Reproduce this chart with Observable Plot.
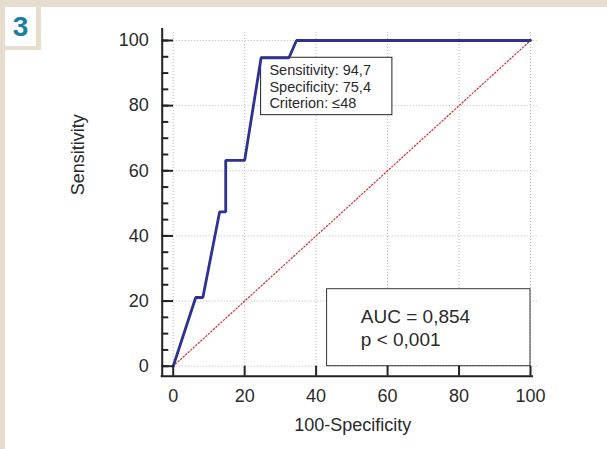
<!DOCTYPE html>
<html>
<head>
<meta charset="utf-8">
<script src="https://cdn.jsdelivr.net/npm/d3@7"></script>
<script src="https://cdn.jsdelivr.net/npm/@observablehq/plot@0.6"></script>
<style>
  body { margin: 0; background: #fff; }
  #wrap { position: relative; width: 607px; height: 449px; overflow: hidden; background: #fff;
          font-family: "Liberation Sans", Arial, sans-serif; }
  .bg { position: absolute; background: #e7ddce; }
  #num { position: absolute; left: 5px; top: 7px; width: 31px; height: 39px; background: #fff;
         color: #17809c; font-weight: bold; font-size: 28px; line-height: 39px; text-align: center; }
  #chart { position: absolute; left: 0; top: 0; }
</style>
</head>
<body>
<div id="wrap">
  <div class="bg" style="left:0;top:0;width:607px;height:7px"></div>
  <div class="bg" style="left:0;top:0;width:5px;height:449px"></div>
  <div class="bg" style="left:0;top:46px;width:41px;height:4px"></div>
  <div class="bg" style="left:36px;top:0;width:5px;height:50px"></div>
  <div id="num">3</div>
  <div id="chart"></div>
</div>
<script>
// ---- data ----
const rocX = [0, 6.3, 8.3, 13.0, 14.7, 14.7, 20.0, 24.6, 32.4, 34.5, 100];
const rocY = [0, 21.1, 21.1, 47.4, 47.4, 63.2, 63.2, 94.7, 94.7, 100, 100];
const diagX = [0, 100];
const diagY = [0, 100];
const xTicks = [0, 20, 40, 60, 80, 100];
const yTicks = [0, 20, 40, 60, 80, 100];
const yMinorTicks = [0, 5, 10, 15, 20, 25, 30, 35, 40, 45, 50, 55, 60, 65, 70, 75, 80, 85, 90, 95, 100];
const critX = [24.6];
const critY = [94.7];
const critLines = ["Sensitivity: 94,7", "Specificity: 75,4", "Criterion: \u226448"];
const aucX = [100];
const aucY = [0];
const aucLines = ["AUC = 0,854", "p < 0,001"];
const xTitle = "100-Specificity";
const yTitle = "Sensitivity";

// ---- tables ----
const roc = rocX.map((x, i) => ({x, y: rocY[i]}));
const diag = diagX.map((x, i) => ({x, y: diagY[i]}));
const crit = [{x: critX[0], y: critY[0], label: critLines.join("\n")}];
const auc = [{x: aucX[0], y: aucY[0], label: aucLines.join("\n")}];

const ink = "#222";
const txt = "#2a2a2a";
const gridStyle = {stroke: "#b8b8b8", strokeWidth: 1, strokeDasharray: "1,2", strokeOpacity: 1};

const chart = Plot.plot({
  width: 607,
  height: 449,
  marginLeft: 172.7,
  marginRight: 77,
  marginTop: 40,
  marginBottom: 83.3,
  style: {background: "transparent", fontFamily: "'Liberation Sans', Arial, sans-serif", overflow: "visible"},
  x: {domain: [0, 100]},
  y: {domain: [0, 100]},
  marks: [
    // grid
    Plot.ruleX(xTicks, {x: d => d, ...gridStyle, insetTop: -8}),
    Plot.ruleY(yTicks, {y: d => d, ...gridStyle, insetRight: -8}),
    // chance diagonal
    Plot.line(diag, {x: "x", y: "y", stroke: "#e3202a", strokeWidth: 1.2, strokeDasharray: "1.2,2.2"}),
    // annotation boxes
    Plot.rect(crit, {x1: "x", x2: "x", y1: "y", y2: "y", insetRight: -131.3, insetBottom: -57.4,
                     fill: "white", stroke: ink, strokeWidth: 1}),
    Plot.rect(auc, {x1: "x", x2: "x", y1: "y", y2: "y", insetLeft: -203.4, insetTop: -77,
                    fill: "white", stroke: "#333", strokeWidth: 1}),
    // ROC curve
    Plot.line(roc, {x: "x", y: "y", stroke: "#2e3192", strokeWidth: 2.8, strokeLinejoin: "miter"}),
    // annotation texts
    Plot.text(crit, {x: "x", y: "y", text: "label", textAnchor: "start", lineAnchor: "bottom",
                     dx: 8.3, dy: 50, fontSize: 14.5, lineHeight: 1.117, fill: txt, ariaLabel: "crit-text"}),
    Plot.text(auc, {x: "x", y: "y", text: "label", textAnchor: "start", lineAnchor: "bottom",
                    dx: -169.7, dy: -20, fontSize: 19, lineHeight: 1.195, fill: txt, ariaLabel: "auc-text"}),
    // axis lines
    Plot.ruleX([0], {x: d => d, dx: -11, insetTop: -12, insetBottom: -11, stroke: ink, strokeWidth: 2}),
    Plot.ruleY([0], {y: d => d, dy: 10, insetLeft: -12, insetRight: -3, stroke: ink, strokeWidth: 2}),
    // ticks
    Plot.axisY({ticks: yMinorTicks, tickSize: -6.6, dx: -11, fill: "none", stroke: ink, strokeWidth: 2, label: null}),
    Plot.axisY({ticks: yTicks, tickSize: -11.3, dx: -11, fill: "none", stroke: ink, strokeWidth: 2, label: null}),
    Plot.axisX({ticks: xTicks, tickSize: -10, dy: 10, fill: "none", stroke: ink, strokeWidth: 2, label: null}),
    // tick labels
    Plot.axisY({ticks: yTicks, tickSize: 0, tickPadding: 24.4, fontSize: 18, fill: txt, label: null}),
    Plot.axisX({ticks: xTicks, tickSize: 0, tickPadding: 23.2, fontSize: 18, fill: txt, label: null}),
    // axis titles
    Plot.text([xTitle], {frameAnchor: "bottom", lineAnchor: "bottom", dx: 1, dy: 65, fontSize: 18, fill: txt}),
    Plot.text([yTitle], {frameAnchor: "left", rotate: -90, lineAnchor: "bottom", dx: -89.7, dy: -8,
                         fontSize: 18, fill: txt, ariaLabel: "y-title"})
  ]
});

document.getElementById("chart").appendChild(chart);
const svg = d3.select(chart);
svg.selectAll('g[aria-label="crit-text"] text').style("letter-spacing", "-0.45px");
svg.selectAll('g[aria-label="auc-text"] text').style("letter-spacing", "-0.35px");
svg.selectAll('g[aria-label="y-title"] text').style("letter-spacing", "-0.6px");
</script>
</body>
</html>
